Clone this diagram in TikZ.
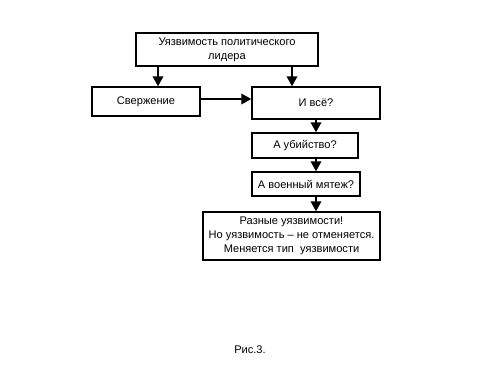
\documentclass[tikz,border=0pt]{standalone}
\usepackage{fontspec}
\setmainfont{Liberation Sans}
\usetikzlibrary{arrows.meta,positioning}
\tikzset{
    every node/.append style={align=center},
    box/.style={rectangle,draw=black,line width=0.8pt,inner sep=1pt,font=\fontsize{6.3}{8}\selectfont},
    arr/.style={-{Triangle[length=2mm,width=2.1mm]},line width=1.1pt},
    captxt/.style={font=\fontsize{6.3}{8}\selectfont}
}
\begin{document}
\begin{tikzpicture}
    \useasboundingbox (0,0) rectangle (10,-7.5);
    % boxes
    \node[box,minimum width=3.64cm,minimum height=0.66cm] (lider)   at (4.54,-0.99) {Уязвимость политического\\лидера};
    \node[box,minimum width=2.16cm,minimum height=0.58cm] (sverzh)  at (2.92,-2.03) {Свержение};
    \node[box,minimum width=2.56cm,minimum height=0.64cm] (ivse)    at (6.32,-2.06) {И всё?};
    \node[box,minimum width=2.12cm,minimum height=0.50cm] (ubiy)    at (6.10,-2.91) {А убийство?};
    \node[box,minimum width=2.16cm,minimum height=0.48cm] (myatezh) at (6.12,-3.68) {А военный мятеж?};
    \node[box,minimum width=3.54cm,minimum height=0.96cm] (final)   at (5.83,-4.72) {Разные уязвимости!\\Но уязвимость -- не отменяется.\\Меняется тип\ \ уязвимости};
    \node[captxt] (ris) at (5.0,-7.0) {Рис.3.};

    \draw[arr] ([xshift=-1.38cm]lider.south) -- ([xshift=0.24cm]sverzh.north);
    \draw[arr] ([xshift=1.30cm]lider.south) -- ([xshift=-0.48cm]ivse.north);
    \draw[arr] ([yshift=0.05cm]sverzh.east) -- ([yshift=0.05cm]sverzh.east -| ivse.west);
    \draw[arr] (ivse.south) -- (ivse.south |- ubiy.north);
    \draw[arr] (ivse.south |- ubiy.south) -- (ivse.south |- myatezh.north);
    \draw[arr] (ivse.south |- myatezh.south) -- (ivse.south |- final.north);
\end{tikzpicture}
\end{document}
